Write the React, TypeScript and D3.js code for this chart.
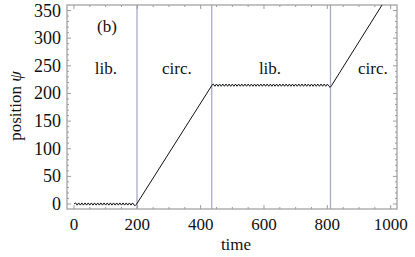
import React from 'react';
import * as d3 from 'd3';

// sampled trajectory, read off the picture
// libration around 0 (t = 0 .. 190, every 5)
const lib1Start = 0;
const lib1Step = 5;
const lib1Values = [0, 2, -2, 2, -2, 2, -2, 2, -2, 2, -2, 2, -2, 2, -2, 2, -2, 2, -2, 2, -2, 2, -2, 2, -2, 2, -2, 2, -2, 2, -2, 2, -2, 2, -2, 2, -2, 2, -2];
// first circulation
const ramp1 = [[193, -3], [198, 0], [437, 216]];
// libration around 215 (t = 440 .. 805, every 5)
const lib2Start = 440;
const lib2Step = 5;
const lib2Values = [217, 213, 217, 213, 217, 213, 217, 213, 217, 213, 217, 213, 217, 213, 217, 213, 217, 213, 217, 213, 217, 213, 217, 213, 217, 213, 217, 213, 217, 213, 217, 213, 217, 213, 217, 213, 217, 213, 217, 213, 217, 213, 217, 213, 217, 213, 217, 213, 217, 213, 217, 213, 217, 213, 217, 213, 217, 213, 217, 213, 217, 213, 217, 213, 217, 213, 217, 213, 217, 213, 217, 213, 217, 213];
// second circulation
const ramp2 = [[809, 211], [813, 214], [1000, 385]];

const dividers = [199, 435, 810];
const regimeLabels = ['lib.', 'circ.', 'lib.', 'circ.'];
const regimeCenters = [101, 325, 619, 944];

const xTicks = [0, 200, 400, 600, 800, 1000];
const yTicks = [0, 50, 100, 150, 200, 250, 300, 350];

export default function App() {
  const W = 415, H = 257;
  const left = 67, right = 397, top = 5, bottom = 209;

  const x = d3.scaleLinear().domain([-22, 1020]).range([left, right]);
  const y = d3.scaleLinear().domain([-9, 360]).range([bottom, top]);

  // stitch the pieces together
  const pts: [number, number][] = [];
  lib1Values.forEach((v, i) => pts.push([lib1Start + i * lib1Step, v]));
  ramp1.forEach(p => pts.push([p[0], p[1]]));
  lib2Values.forEach((v, i) => pts.push([lib2Start + i * lib2Step, v]));
  ramp2.forEach(p => pts.push([p[0], p[1]]));

  const line = d3.line<[number, number]>()
    .x(d => x(d[0]))
    .y(d => y(d[1]));

  const frame = '#9c9c9c';
  const font = '"Liberation Serif", "DejaVu Serif", serif';
  const minorX = d3.range(0, 1001, 50).filter(v => v % 200 !== 0);
  const minorY = d3.range(0, 351, 10).filter(v => v % 50 !== 0);

  return (
    <svg width={W} height={H} style={{ position: 'absolute', left: 0, top: 0 }} fontFamily={font}>
      <rect width={W} height={H} fill="#fff" />
      <defs>
        <clipPath id="plot">
          <rect x={left} y={top} width={right - left} height={bottom - top} />
        </clipPath>
      </defs>

      {/* regime dividers */}
      {dividers.map(d => (
        <line key={d} x1={x(d)} x2={x(d)} y1={top} y2={bottom} stroke="#a9abc6" strokeWidth={1.3} />
      ))}

      {/* ticks, mirrored on all sides */}
      {xTicks.map(t => (
        <g key={'x' + t}>
          <line x1={x(t)} x2={x(t)} y1={bottom} y2={bottom - 4} stroke={frame} />
          <line x1={x(t)} x2={x(t)} y1={top} y2={top + 4} stroke={frame} />
          <text x={x(t)} y={230} textAnchor="middle" fontSize={17} fill="#111">{t}</text>
        </g>
      ))}
      {minorX.map(t => (
        <g key={'mx' + t}>
          <line x1={x(t)} x2={x(t)} y1={bottom} y2={bottom - 2} stroke={frame} />
          <line x1={x(t)} x2={x(t)} y1={top} y2={top + 2} stroke={frame} />
        </g>
      ))}
      {yTicks.map(t => (
        <g key={'y' + t}>
          <line x1={left} x2={left + 4} y1={y(t)} y2={y(t)} stroke={frame} />
          <line x1={right} x2={right - 4} y1={y(t)} y2={y(t)} stroke={frame} />
          <text x={61} y={y(t) + 6} textAnchor="end" fontSize={18} fill="#111">{t}</text>
        </g>
      ))}
      {minorY.map(t => (
        <g key={'my' + t}>
          <line x1={left} x2={left + 2} y1={y(t)} y2={y(t)} stroke={frame} />
          <line x1={right} x2={right - 2} y1={y(t)} y2={y(t)} stroke={frame} />
        </g>
      ))}

      <rect x={left} y={top} width={right - left} height={bottom - top} fill="none" stroke={frame} strokeWidth={1.2} />

      <path d={line(pts) ?? ''} fill="none" stroke="#111" strokeWidth={1} clipPath="url(#plot)" />

      <text x={107} y={32} textAnchor="middle" fontSize={17} fill="#111">(b)</text>
      {regimeLabels.map((l, i) => (
        <text key={i} x={x(regimeCenters[i])} y={74} textAnchor="middle" fontSize={17} fill="#111">{l}</text>
      ))}

      <text x={236} y={250} textAnchor="middle" fontSize={17} fill="#111">time</text>
      <text transform="translate(21,106) rotate(-90)" textAnchor="middle" fontSize={17} fill="#111">
        position <tspan fontStyle="italic">ψ</tspan>
      </text>
    </svg>
  );
}
